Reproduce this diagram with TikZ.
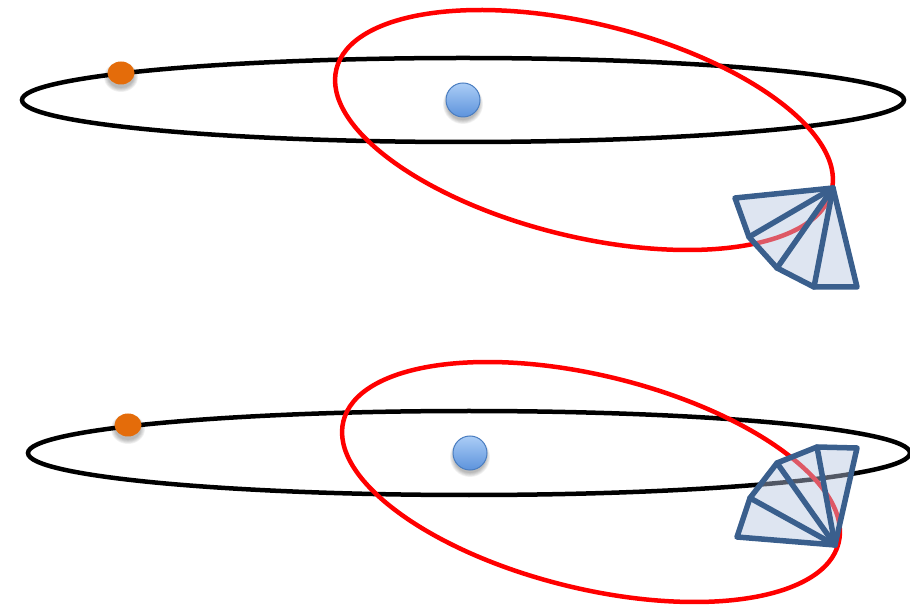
\documentclass[tikz,border=0pt]{standalone}
\usetikzlibrary{shapes.geometric}
\definecolor{orbitred}{HTML}{FF0000}
\definecolor{fanedge}{HTML}{3A5F8D}
\definecolor{fanfill}{HTML}{B6C5E0}
\definecolor{sunorange}{HTML}{E46C0A}
\definecolor{ballborder}{HTML}{4A7DC0}
\definecolor{balltop}{HTML}{ABCDF6}
\definecolor{ballbottom}{HTML}{5D93DC}
\tikzset{
  orbit/.style={draw=black, line width=4.5pt},
  tilted/.style={draw=orbitred, line width=4.5pt},
  fanbox/.style={draw=fanedge, line width=5.5pt, line join=round, line cap=round, fill=fanfill, fill opacity=0.45},
  spoke/.style={draw=fanedge, line width=5.5pt, line cap=round},
  planet/.style={ellipse, fill=sunorange, inner sep=0pt, minimum width=27pt, minimum height=23pt},
  core/.style={circle, draw=ballborder, line width=1pt, top color=balltop, bottom color=ballbottom, inner sep=0pt, minimum size=34pt},
}
% soft shadow under a round body
\newcommand{\softshadow}[3]{%
  \foreach \k in {0,1,...,5}{%
    \fill[black, opacity=0.05] (#1) ++(0,-4) ellipse [x radius={#2+4-0.8*\k}, y radius={#3+4-0.8*\k}];
  }%
}
\begin{document}
\begin{tikzpicture}[x=1pt, y=1pt]
\useasboundingbox (0,0) rectangle (910,608);

% ---------- upper system ----------
\coordinate (cA) at (463,508);
\coordinate (pA) at (121,535);
\draw[orbit] (cA) ellipse [x radius=441, y radius=42];
\softshadow{pA}{13}{11}
\node[planet] (planetA) at (pA) {};
\softshadow{cA}{16}{16}
\node[core] (coreA) at (cA) {};
\draw[tilted, rotate around={-13.8:(584,478)}] (584,478) ellipse [x radius=255, y radius=106.5];

\coordinate (a0) at (833,420);
\coordinate (a1) at (735,410);
\coordinate (a2) at (749,371);
\coordinate (a3) at (777,340);
\coordinate (a4) at (814,321);
\coordinate (a5) at (857,321);
\path[fanbox] (a0) -- (a1) -- (a2) -- (a3) -- (a4) -- (a5) -- cycle;
\foreach \i in {2,3,4}{ \draw[spoke] (a0) -- (a\i); }

% ---------- lower system ----------
\coordinate (cB) at (470,155);
\coordinate (pB) at (128,183);
\draw[orbit] (469,155) ellipse [x radius=441, y radius=42];
\softshadow{pB}{13}{11}
\node[planet] (planetB) at (pB) {};
\softshadow{cB}{16}{16}
\node[core] (coreB) at (cB) {};
\draw[tilted, rotate around={-13.8:(591,126)}] (591,126) ellipse [x radius=255, y radius=106.5];

\coordinate (b0) at (835,63);
\coordinate (b1) at (737,71);
\coordinate (b2) at (750,110);
\coordinate (b3) at (777,145);
\coordinate (b4) at (817,161);
\coordinate (b5) at (857,160);
\path[fanbox] (b0) -- (b1) -- (b2) -- (b3) -- (b4) -- (b5) -- cycle;
\foreach \i in {2,3,4}{ \draw[spoke] (b0) -- (b\i); }
\end{tikzpicture}
\end{document}
